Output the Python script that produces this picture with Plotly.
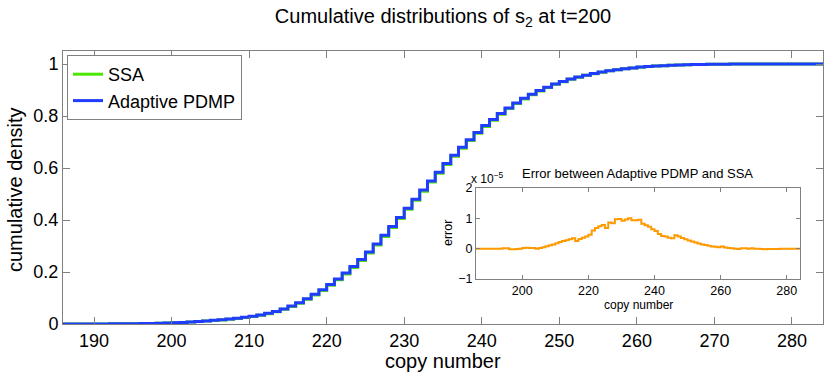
import plotly.graph_objects as go

copy_number = list(range(186, 285))

pdmp_cdf = [
    0.0000, 0.0000, 0.0001, 0.0002, 0.0003, 0.0004, 0.0006, 0.0008, 0.0011, 0.0014,
    0.0018, 0.0023, 0.0029, 0.0037, 0.0047, 0.0059, 0.0074, 0.0092, 0.0114, 0.0140,
    0.0160, 0.0190, 0.0220, 0.0260, 0.0300, 0.0350, 0.0410, 0.0485, 0.0580, 0.0690,
    0.0820, 0.0970, 0.1140, 0.1320, 0.1520, 0.1730, 0.1960, 0.2210, 0.2480, 0.2770,
    0.3080, 0.3410, 0.3750, 0.4100, 0.4450, 0.4800, 0.5150, 0.5500, 0.5840, 0.6170,
    0.6490, 0.6800, 0.7090, 0.7370, 0.7630, 0.7870, 0.8100, 0.8310, 0.8500, 0.8680,
    0.8840, 0.8980, 0.9110, 0.9230, 0.9330, 0.9420, 0.9500, 0.9570, 0.9630, 0.9690,
    0.9740, 0.9780, 0.9820, 0.9850, 0.9880, 0.9900, 0.9920, 0.9935, 0.9950, 0.9960,
    0.9970, 0.9977, 0.9983, 0.9988, 0.9991, 0.9994, 0.9996, 0.9997, 0.9998, 0.9999,
    1.0000, 1.0000, 1.0000, 1.0000, 1.0000, 1.0000, 1.0000, 1.0000, 1.0000,
]

ssa_cdf = [
    0.0000, 0.0000, 0.0001, 0.0002, 0.0003, 0.0004, 0.0006, 0.0008, 0.0011, 0.0014,
    0.0018, 0.0023, 0.0029, 0.0037, 0.0047, 0.0059, 0.0074, 0.0092, 0.0114, 0.0135,
    0.0154, 0.0183, 0.0212, 0.0251, 0.0290, 0.0338, 0.0396, 0.0469, 0.0563, 0.0671,
    0.0799, 0.0948, 0.1115, 0.1293, 0.1490, 0.1698, 0.1927, 0.2175, 0.2444, 0.2732,
    0.3041, 0.3370, 0.3710, 0.4060, 0.4410, 0.4760, 0.5110, 0.5460, 0.5800, 0.6130,
    0.6452, 0.6762, 0.7054, 0.7336, 0.7598, 0.7840, 0.8072, 0.8284, 0.8476, 0.8658,
    0.8820, 0.8962, 0.9095, 0.9217, 0.9319, 0.9411, 0.9493, 0.9564, 0.9625, 0.9686,
    0.9737, 0.9778, 0.9818, 0.9849, 0.9879, 0.9900, 0.9920, 0.9935, 0.9950, 0.9960,
    0.9970, 0.9977, 0.9983, 0.9988, 0.9991, 0.9994, 0.9996, 0.9997, 0.9998, 0.9999,
    1.0000, 1.0000, 1.0000, 1.0000, 1.0000, 1.0000, 1.0000, 1.0000, 1.0000,
]

# error between Adaptive PDMP and SSA, in units of 1e-5
error_e5 = [
    0.00, 0.00, 0.00, 0.00, 0.00, 0.00, 0.00, 0.00, 0.01, 0.01,
    -0.02, -0.02, -0.01, 0.00, 0.02, 0.03, 0.02, 0.02, 0.00, 0.02,
    0.05, 0.08, 0.11, 0.14, 0.18, 0.22, 0.25, 0.28, 0.31, 0.34,
    0.25, 0.32, 0.36, 0.40, 0.46, 0.60, 0.68, 0.74, 0.78, 0.68,
    0.86, 0.84, 0.97, 0.98, 0.92, 0.96, 1.00, 0.94, 0.94, 0.95,
    0.82, 0.77, 0.72, 0.64, 0.58, 0.48, 0.42, 0.40, 0.36, 0.34,
    0.44, 0.40, 0.35, 0.31, 0.27, 0.24, 0.20, 0.17, 0.14, 0.12,
    0.10, 0.07, 0.06, 0.05, 0.07, 0.04, 0.02, 0.01, 0.00, -0.01,
    0.01, 0.01, 0.00, 0.01, 0.00, 0.00, -0.01, -0.02, -0.01, -0.01,
    -0.01, -0.01, 0.00, 0.00, 0.00, 0.00, 0.00, 0.00, 0.00,
]

main_xticks = [190, 200, 210, 220, 230, 240, 250, 260, 270, 280]
main_yticks = [0, 0.2, 0.4, 0.6, 0.8, 1]
main_yticklabels = ["0", "0.2", "0.4", "0.6", "0.8", "1"]
inset_xticks = [200, 220, 240, 260, 280]
inset_yticks = [-1, 0, 1, 2]
inset_yticklabels = ["\u22121", "0", "1", "2"]

FONT = "Liberation Sans, Arial, Helvetica, sans-serif"
GRAY = "#808080"

# plot-area geometry in pixels
L, R, T, B = 63, 823, 51, 324
W, H = R - L, B - T


def px(xp):
    return (xp - L) / W


def py(yp):
    return (B - yp) / H


fig = go.Figure()
fig.add_trace(go.Scatter(x=copy_number, y=ssa_cdf, mode="lines", name="SSA",
                         line=dict(color="#4ce600", width=3, shape="hv")))
fig.add_trace(go.Scatter(x=copy_number, y=pdmp_cdf, mode="lines", name="Adaptive PDMP",
                         line=dict(color="#1f3cff", width=3, shape="hv")))
fig.add_trace(go.Scatter(x=copy_number, y=error_e5, mode="lines", showlegend=False,
                         xaxis="x2", yaxis="y2",
                         line=dict(color="#ff9900", width=2, shape="hv")))

axis_common = dict(showline=True, linecolor=GRAY, linewidth=1, mirror="ticks",
                   ticks="inside", tickcolor=GRAY, showgrid=False, zeroline=False,
                   automargin=False)

fig.update_layout(
    width=830, height=372,
    margin=dict(l=L, r=830 - R, t=T, b=372 - B, autoexpand=False),
    paper_bgcolor="white", plot_bgcolor="white",
    font=dict(family=FONT, color="black"),
    title=dict(text="Cumulative distributions of s<sub>2</sub> at t=200",
               x=0.5, xref="paper", xanchor="center",
               y=1 - 16 / 372, yref="container", yanchor="middle",
               font=dict(size=20, family=FONT)),
    xaxis=dict(range=[186, 284], tickvals=main_xticks, ticklen=7,
               tickfont=dict(size=18), domain=[0, 1], **axis_common),
    yaxis=dict(range=[0, 1.05], tickvals=main_yticks, ticktext=main_yticklabels,
               ticklen=7, tickfont=dict(size=18), **axis_common),
    xaxis2=dict(range=[186, 284], tickvals=inset_xticks, ticklen=4,
                tickfont=dict(size=12.5), anchor="y2",
                domain=[px(476), px(800)], **axis_common),
    yaxis2=dict(range=[-1, 2], tickvals=inset_yticks, ticktext=inset_yticklabels,
                ticklen=4, tickfont=dict(size=12.5), anchor="x2",
                domain=[py(279), py(188)], **axis_common),
    legend=dict(x=px(67), y=py(55), xanchor="left", yanchor="top",
                bgcolor="white", bordercolor=GRAY, borderwidth=1,
                font=dict(size=18), tracegroupgap=0, itemwidth=30),
    annotations=[
        dict(text="copy number", xref="paper", yref="paper",
             x=px(443), y=py(361), xanchor="center", yanchor="middle",
             showarrow=False, font=dict(size=20)),
        dict(text="cumulative density", xref="paper", yref="paper",
             x=px(15), y=py(190), xanchor="center", yanchor="middle",
             textangle=-90, showarrow=False, font=dict(size=20)),
        dict(text="Error between Adaptive PDMP and SSA", xref="paper", yref="paper",
             x=px(637), y=py(173), xanchor="center", yanchor="middle",
             showarrow=False, font=dict(size=13)),
        dict(text="x 10<sup>\u22125</sup>", xref="paper", yref="paper",
             x=px(469), y=py(178), xanchor="left", yanchor="middle",
             showarrow=False, font=dict(size=12)),
        dict(text="copy number", xref="paper", yref="paper",
             x=px(638), y=py(305), xanchor="center", yanchor="middle",
             showarrow=False, font=dict(size=12)),
        dict(text="error", xref="paper", yref="paper",
             x=px(448), y=py(233), xanchor="center", yanchor="middle",
             textangle=-90, showarrow=False, font=dict(size=12.5)),
    ],
)

fig.write_html(
    "out.html",
    config={"displayModeBar": False},
    post_script="document.body.style.margin='0';document.body.style.overflow='hidden';",
)
